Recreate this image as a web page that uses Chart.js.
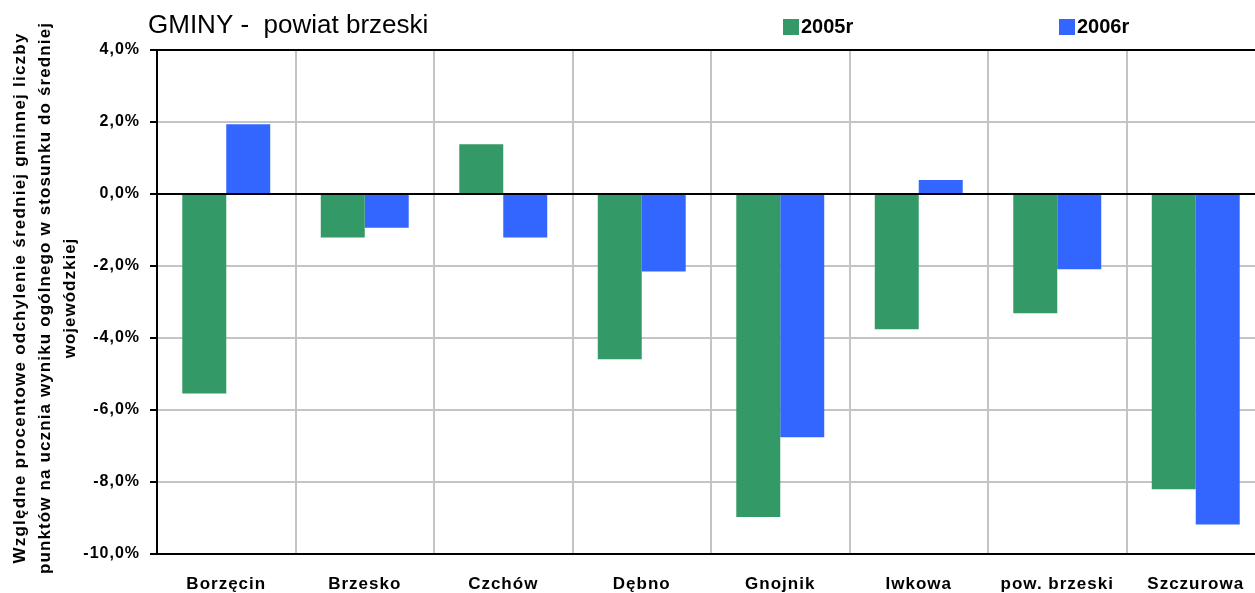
<!DOCTYPE html>
<html>
<head>
<meta charset="utf-8">
<script src="https://cdn.jsdelivr.net/npm/chart.js@4"></script>
<style>
    body { margin: 0; overflow: hidden; background: #fff; }
    #wrap { width: 1265px; height: 593px; position: relative; }
</style>
</head>
<body>
<div id="wrap"><canvas id="myChart"></canvas></div>
<script>
const categories = ['Borzęcin', 'Brzesko', 'Czchów', 'Dębno', 'Gnojnik', 'Iwkowa', 'pow. brzeski', 'Szczurowa'];
const values2005 = [-5.54, -1.21, 1.38, -4.59, -8.97, -3.76, -3.31, -8.2];
const values2006 = [1.94, -0.94, -1.21, -2.15, -6.76, 0.39, -2.09, -9.18];
const yTicks = [4, 2, 0, -2, -4, -6, -8, -10];
const yTitle = [
    'Względne procentowe odchylenie średniej gminnej liczby',
    'punktów na ucznia wyniku ogólnego w stosunku do średniej',
    'wojewódzkiej'
];

const green = '#339966';
const blue = '#3366ff';

// spaced-out lettering for the axis labels, like the original
const spacing = {
    id: 'spacing',
    beforeDraw(chart) {
        chart.ctx.letterSpacing = '1px';
    }
};

// title, legend and rotated axis title drawn by hand
const extras = {
    id: 'extras',
    afterDraw(chart) {
        const ctx = chart.ctx;
        ctx.save();
        ctx.fillStyle = '#000';
        ctx.textBaseline = 'middle';
        ctx.letterSpacing = '0px';
        ctx.font = '26px "Liberation Sans", Arial, sans-serif';
        ctx.textAlign = 'left';
        ctx.fillText('GMINY -  powiat brzeski', 148, 26);

        ctx.font = 'bold 20px "Liberation Sans", Arial, sans-serif';
        ctx.fillStyle = green;
        ctx.fillRect(783, 19, 16, 16);
        ctx.fillStyle = '#000';
        ctx.fillText('2005r', 801, 27);
        ctx.fillStyle = blue;
        ctx.fillRect(1059, 19, 16, 16);
        ctx.fillStyle = '#000';
        ctx.fillText('2006r', 1077, 27);

        // y axis title, 3 lines
        const xs = [20, 45, 70];
        const widths = [530, 551, 0];
        ctx.font = 'bold 17px "Liberation Sans", Arial, sans-serif';
        ctx.textAlign = 'center';
        for (let i = 0; i < yTitle.length; i++) {
            ctx.save();
            ctx.translate(xs[i], 298);
            ctx.rotate(-Math.PI / 2);
            ctx.letterSpacing = '0px';
            let w = ctx.measureText(yTitle[i]).width;
            let sp = widths[i] ? (widths[i] - w) / (yTitle[i].length - 1) : 1;
            ctx.letterSpacing = sp + 'px';
            ctx.fillText(yTitle[i], 0, 0);
            ctx.restore();
        }
        ctx.restore();
    }
};

window.addEventListener('load', function() {
    chartBar();
});

function chartBar() {
    const ctx = document.getElementById('myChart');
    new Chart(ctx, {
        type: 'bar',
        data: {
            labels: categories,
            datasets: [{
                label: '2005r',
                data: values2005,
                backgroundColor: green,
                borderWidth: 0,
            }, {
                label: '2006r',
                data: values2006,
                backgroundColor: blue,
                borderWidth: 0,
            }]
        },
        options: {
            responsive: true,
            maintainAspectRatio: false,
            animation: false,
            layout: { padding: { top: 50, left: 0, right: 0, bottom: 0 } },
            datasets: {
                bar: { categoryPercentage: 0.635, barPercentage: 1.0 }
            },
            plugins: {
                legend: { display: false },
                title: { display: false },
                tooltip: { enabled: false }
            },
            scales: {
                x: {
                    afterFit: function(scale) { scale.height = 39; },
                    grid: {
                        color: '#c4c4c4',
                        lineWidth: 2,
                        drawTicks: false,
                        offset: true
                    },
                    border: { color: '#000', width: 2 },
                    ticks: {
                        padding: 20,
                        color: '#000',
                        font: { family: '"Liberation Sans", Arial, sans-serif', size: 17, weight: 'bold' }
                    }
                },
                y: {
                    min: -10,
                    max: 4,
                    afterFit: function(scale) { scale.width = 157; },
                    afterBuildTicks: function(scale) {
                        scale.ticks = yTicks.map(v => ({ value: v }));
                    },
                    grid: {
                        color: function(c) {
                            let v = c.tick ? c.tick.value : null;
                            return (v === 0 || v === 4) ? '#000' : '#c4c4c4';
                        },
                        lineWidth: 2,
                        tickLength: 7,
                        tickColor: '#000'
                    },
                    border: { color: '#000', width: 2 },
                    ticks: {
                        padding: 10,
                        color: '#000',
                        font: { family: '"Liberation Sans", Arial, sans-serif', size: 16, weight: 'bold' },
                        callback: function(v) { return v.toFixed(1).replace('.', ',') + '%'; }
                    }
                }
            }
        },
        plugins: [spacing, extras]
    });
}
</script>
</body>
</html>
